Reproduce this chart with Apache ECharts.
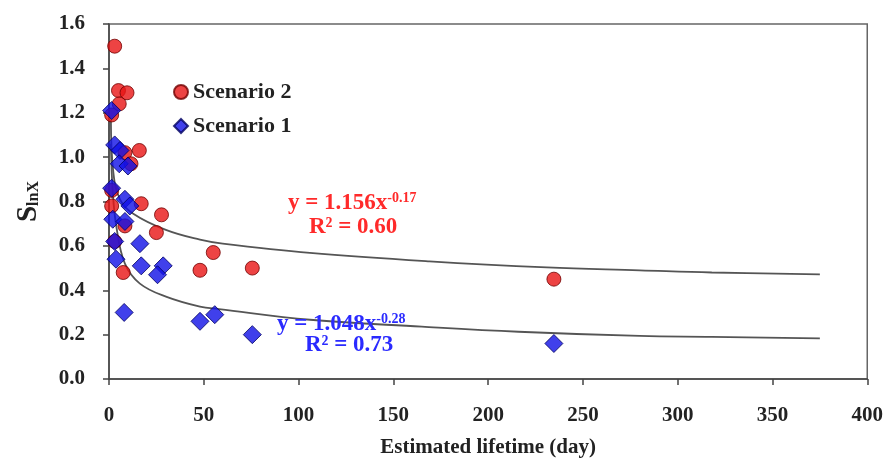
<!DOCTYPE html>
<html>
<head>
<meta charset="utf-8">
<script src="https://cdn.jsdelivr.net/npm/echarts@6/dist/echarts.min.js"></script>
<style>
    html, body { margin: 0; padding: 0; background: #fff; }
    #chart { width: 886px; height: 464px; }
</style>
</head>
<body>
<div id="chart"></div>
<script>
// values: [lifetime (day), S_lnX]
let scenario2 = [
    [3, 1.50], [5, 1.30], [9.5, 1.29], [5.4, 1.24], [1.4, 1.19],
    [16, 1.03], [8.4, 1.02], [11.6, 0.97], [1.4, 0.85], [17, 0.79],
    [1.4, 0.78], [27.7, 0.74], [8.4, 0.69], [25, 0.66], [3, 0.62],
    [55, 0.57], [7.5, 0.48], [48, 0.49], [75.6, 0.50], [234.7, 0.45]
];
let scenario1 = [
    [1.4, 1.21], [3, 1.055], [5.8, 1.03], [5.4, 0.97], [10, 0.96],
    [1.4, 0.86], [8.4, 0.81], [11, 0.78], [2, 0.72], [8.4, 0.71],
    [3, 0.62], [16.3, 0.61], [3.7, 0.54], [17, 0.51], [28.6, 0.51],
    [25.6, 0.47], [8, 0.30], [48, 0.26], [55.8, 0.29], [75.6, 0.20],
    [234.7, 0.16]
];
// fitted power curves
let fit2 = [
    [1, 1.17], [2.3, 0.93], [5.8, 0.81], [12.8, 0.745], [30, 0.672],
    [48, 0.628], [60, 0.61], [106, 0.568], [169, 0.53], [231, 0.503],
    [280, 0.49], [318, 0.48], [375, 0.472]
];
let fit1 = [
    [1, 1.06], [2, 0.84], [4, 0.68], [8.4, 0.52], [16.3, 0.43],
    [30.4, 0.37], [48, 0.326], [58, 0.315], [106, 0.267], [165, 0.236],
    [216, 0.213], [280, 0.194], [318, 0.19], [375, 0.183]
];
let xTicks = { min: 0, max: 400, interval: 50 };
let yTicks = { min: 0, max: 1.6, interval: 0.2 };

let serif = "Liberation Serif";
let chart = echarts.init(document.getElementById("chart"));

function eqText(main, sup, color) {
    return {
        text: "{b|" + main + "}{sup|" + sup + "}",
        rich: {
            b: { fontFamily: serif, fontWeight: "bold", fontSize: 23, fill: color, lineHeight: 24 },
            sup: { fontFamily: serif, fontWeight: "bold", fontSize: 14, fill: color, lineHeight: 14, verticalAlign: "top" }
        }
    };
}

let option = {
    animation: false,
    grid: {
        left: 109,
        right: 18,
        top: 24,
        bottom: 85,
        show: true,
        borderColor: "#666",
        borderWidth: 1.5
    },
    legend: {
        orient: "vertical",
        left: 168,
        top: 76,
        itemGap: 12,
        itemWidth: 14,
        itemHeight: 14,
        data: [
            { name: "Scenario 2", icon: "circle" },
            { name: "Scenario 1", icon: "diamond" }
        ],
        textStyle: {
            fontFamily: serif,
            fontWeight: "bold",
            fontSize: 22,
            color: "#222"
        }
    },
    xAxis: {
        type: "value",
        min: xTicks.min,
        max: xTicks.max,
        interval: xTicks.interval,
        name: "Estimated lifetime (day)",
        nameLocation: "middle",
        nameGap: 58,
        nameTextStyle: {
            fontFamily: serif,
            fontWeight: "bold",
            fontSize: 21,
            color: "#222"
        },
        axisLine: { lineStyle: { color: "#444", width: 1.5 } },
        axisTick: { length: 6, lineStyle: { color: "#444", width: 1.5 } },
        splitLine: { show: false },
        axisLabel: {
            margin: 26,
            fontFamily: serif,
            fontWeight: "bold",
            fontSize: 21,
            color: "#222"
        }
    },
    yAxis: {
        type: "value",
        min: yTicks.min,
        max: yTicks.max,
        interval: yTicks.interval,
        name: "{s|S}{sub|lnX}",
        nameLocation: "middle",
        nameRotate: 90,
        nameGap: 66,
        nameTextStyle: {
            rich: {
                s: { fontFamily: serif, fontWeight: "bold", fontSize: 29, color: "#222" },
                sub: { fontFamily: serif, fontWeight: "bold", fontSize: 16, color: "#222", padding: [10, 0, 0, 0] }
            }
        },
        axisLine: { lineStyle: { color: "#444", width: 1.5 } },
        axisTick: { length: 6, lineStyle: { color: "#444", width: 1.5 } },
        splitLine: { show: false },
        axisLabel: {
            margin: 24,
            fontFamily: serif,
            fontWeight: "bold",
            fontSize: 21,
            color: "#222",
            formatter: function(v) {
                return v.toFixed(1);
            }
        }
    },
    series: [
        {
            name: "fit2",
            type: "line",
            data: fit2,
            smooth: 0.4,
            showSymbol: false,
            silent: true,
            lineStyle: { color: "#555", width: 1.8 },
            z: 1
        },
        {
            name: "fit1",
            type: "line",
            data: fit1,
            smooth: 0.4,
            showSymbol: false,
            silent: true,
            lineStyle: { color: "#555", width: 1.8 },
            z: 1
        },
        {
            name: "Scenario 2",
            type: "scatter",
            symbol: "circle",
            symbolSize: 14,
            data: scenario2,
            itemStyle: { color: "#e81414", borderColor: "#700000", borderWidth: 1 },
            z: 3
        },
        {
            name: "Scenario 1",
            type: "scatter",
            symbol: "diamond",
            symbolSize: 18,
            data: scenario1,
            itemStyle: { color: "#1010e6", borderColor: "#000060", borderWidth: 1 },
            z: 4
        }
    ],
    graphic: [
        {
            type: "text",
            left: 288,
            top: 191,
            z: 10,
            style: eqText("y = 1.156x", "-0.17", "#ff2a2a")
        },
        {
            type: "text",
            left: 309,
            top: 216,
            z: 10,
            style: {
                text: "R² = 0.60",
                font: "bold 23px 'Liberation Serif'",
                fill: "#ff2a2a"
            }
        },
        {
            type: "text",
            left: 277,
            top: 312,
            z: 10,
            style: eqText("y = 1.048x", "-0.28", "#2a2aff")
        },
        {
            type: "text",
            left: 305,
            top: 334,
            z: 10,
            style: {
                text: "R² = 0.73",
                font: "bold 23px 'Liberation Serif'",
                fill: "#2a2aff"
            }
        }
    ]
};
chart.setOption(option, true);
</script>
</body>
</html>
